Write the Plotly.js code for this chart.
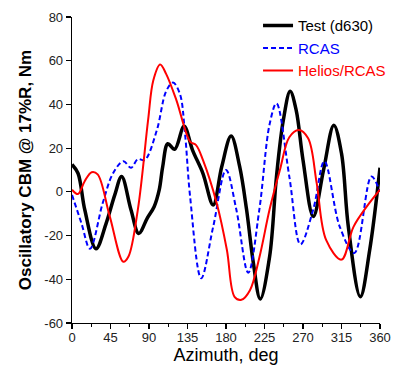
<!DOCTYPE html>
<html>
<head>
<meta charset="utf-8">
<script src="https://cdn.plot.ly/plotly-3.0.1.min.js"></script>
<style>html,body{margin:0;padding:0;background:#fff}#chart{width:393px;height:370px}</style>
</head>
<body>
<div id="chart"></div>
<script>
// Test (d630)
const testAz  = [0, 7, 15, 28, 40, 50, 58, 69, 78, 88, 96, 102, 106, 112, 120, 131, 141, 153, 165, 175, 186, 196, 204, 212, 220, 231, 239, 247, 255, 262, 270, 282, 294, 306, 315, 323, 337, 348, 360];
const testCBM = [12.5, 8.5, -8.3, -26, -14.3, -1.4, 7, -8.3, -19, -12, -6.8, 1, 11.5, 22, 19.5, 30, 19, 8.5, -6, 11.5, 25.5, 11.5, -8, -32.6, -49, -29.6, 7, 32.8, 46, 37.4, 14.6, -11.3, 10, 30.5, 17.6, -16, -48, -26.5, 11];
// RCAS
const rcasAz  = [0, 11, 21, 36, 48, 60, 69, 77, 85, 99, 110, 118, 126, 132, 138, 151, 165, 180, 192, 206, 219, 231, 239, 254, 267, 282, 295, 313, 330, 350, 360];
const rcasCBM = [-1.4, -14.3, -26, -5, 8.5, 14, 11, 15, 14.6, 28, 46, 50, 45, 27, -2, -39.5, -16, 10, -8, -37, -8, 31, 40.5, 7, -24, -8, 14, -16, -28, 7, 0];
// Helios/RCAS
const heliosAz  = [0, 7, 15, 23, 30, 44, 60, 66, 77, 89, 95, 103, 110, 122, 138, 145, 153, 169, 181, 190, 198, 208, 219, 231, 243, 254, 265, 276, 286, 297, 315, 329, 344, 360];
const heliosCBM = [1, -1, 5, 9, 8, -11, -32, -29.6, -8, 33, 51, 58.3, 54, 42, 23, 21.4, 14.6, -5, -26.5, -48, -49.4, -45, -30, -8, 10, 25, 28.3, 24.5, 4, -22, -31, -16, -7, 1];

const xTicks = [0, 45, 90, 135, 180, 225, 270, 315, 360];
const yTicks = [-60, -40, -20, 0, 20, 40, 60, 80];

const FONT = 'Arial, "Liberation Sans", sans-serif';

const traces = [
  {x: testAz, y: testCBM, mode: 'lines', name: 'Test (d630)',
   line: {color: '#000000', width: 3.5, shape: 'spline', smoothing: 1}},
  {x: rcasAz, y: rcasCBM, mode: 'lines', name: '<span style="color:#0000ff">RCAS</span>',
   line: {color: '#0000ff', width: 2, dash: '5px,3px', shape: 'spline', smoothing: 1}},
  {x: heliosAz, y: heliosCBM, mode: 'lines', name: '<span style="color:#ff0000">Helios/RCAS</span>',
   line: {color: '#ff0000', width: 2, shape: 'spline', smoothing: 1}}
];

const layout = {
  width: 393, height: 370,
  margin: {l: 72, r: 13, t: 17, b: 47, autoexpand: false},
  paper_bgcolor: '#fff', plot_bgcolor: '#fff',
  font: {family: FONT, size: 13, color: '#222'},
  showlegend: true,
  legend: {x: 0.604, xanchor: 'left', y: 1.025, yanchor: 'top', bgcolor: 'rgba(0,0,0,0)',
           font: {family: FONT, size: 15, color: '#000'}},
  xaxis: {
    range: [0, 360], tickvals: xTicks, ticktext: xTicks.map(String), automargin: false,
    showgrid: false, zeroline: false, showline: true, linecolor: '#000', linewidth: 1.3,
    ticks: 'outside', ticklen: 5, tickwidth: 1.2, tickcolor: '#000', ticklabelstandoff: -3,
    minor: {dtick: 22.5, tick0: 0, ticks: 'outside', ticklen: 3, tickwidth: 1, tickcolor: '#000', showgrid: false},
    tickfont: {family: FONT, size: 13, color: '#222'},
    title: {text: 'Azimuth, deg', font: {family: FONT, size: 18, color: '#000'}, standoff: 2}
  },
  yaxis: {
    range: [-60, 80], tickvals: yTicks, ticktext: yTicks.map(String), automargin: false,
    showgrid: false, zeroline: false, showline: true, linecolor: '#000', linewidth: 1.3,
    ticks: 'outside', ticklen: 5, tickwidth: 1.2, tickcolor: '#000',
    tickfont: {family: FONT, size: 13, color: '#222'},
    title: {text: '<b>Oscillatory CBM @ 17%R, Nm</b>', font: {family: FONT, size: 17, color: '#000'}, standoff: 8}
  }
};

Plotly.newPlot('chart', traces, layout, {displayModeBar: false, staticPlot: true});
</script>
</body>
</html>
